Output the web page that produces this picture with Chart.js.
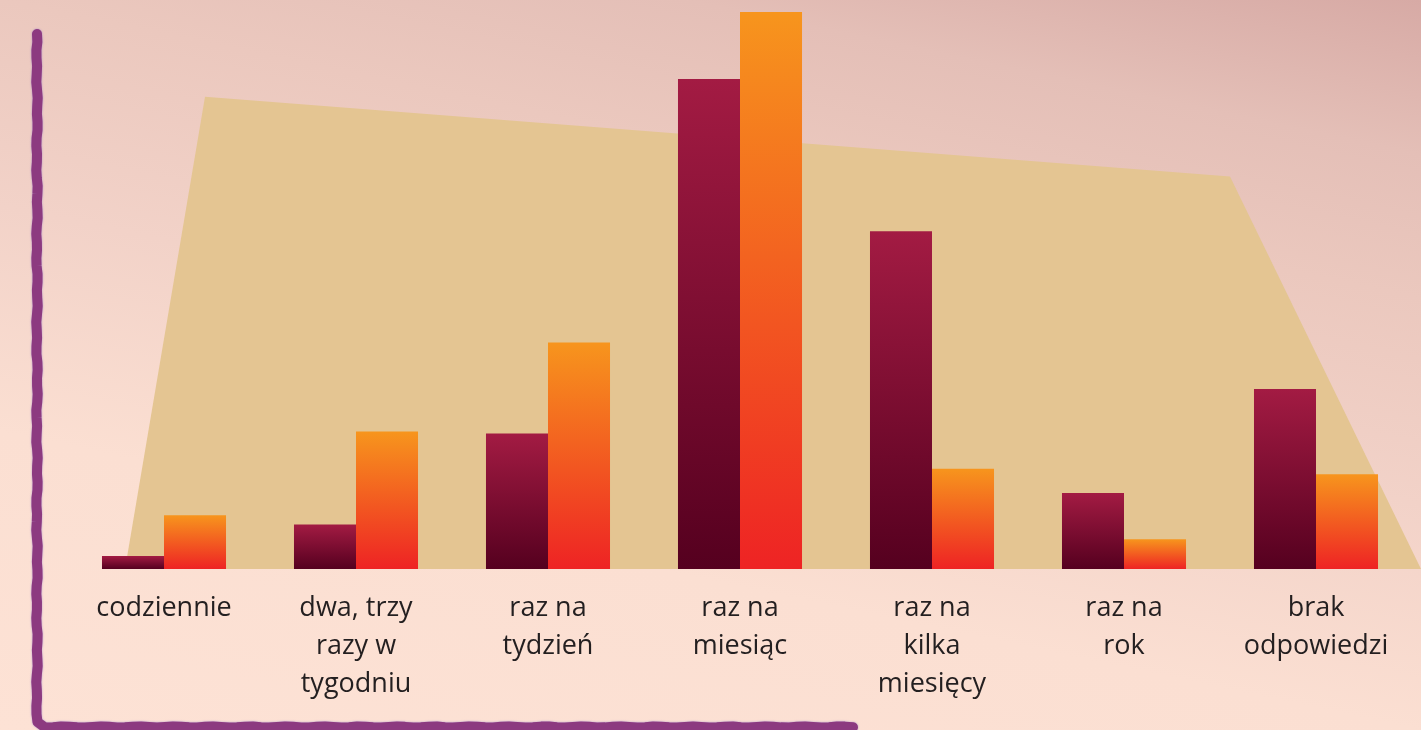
<!DOCTYPE html>
<html>
<head>
<meta charset="utf-8">
<script src="https://cdn.jsdelivr.net/npm/chart.js@4"></script>
<style>
  html, body { margin: 0; padding: 0; overflow: hidden; }
  #wrap { width: 1421px; height: 730px; position: relative; }
</style>
</head>
<body>
<div id="wrap"><canvas id="chart"></canvas></div>
<script>
// categories (multi-line labels as in the picture)
const categories = [
    ['codziennie'],
    ['dwa, trzy', 'razy w', 'tygodniu'],
    ['raz na', 'tydzień'],
    ['raz na', 'miesiąc'],
    ['raz na', 'kilka', 'miesięcy'],
    ['raz na', 'rok'],
    ['brak', 'odpowiedzi']
];
// values (no axis in the source, so relative units)
const seriesDark = [0.7, 2.4, 7.3, 26.4, 18.2, 4.1, 9.7];
const seriesOrange = [2.9, 7.4, 12.2, 30.0, 5.4, 1.6, 5.1];
const yMax = 30.65;

// per-bar vertical gradient, from the bar's top to its base
function barGradient(top, bottom) {
    return (context) => {
        const chart = context.chart;
        const y = chart.scales.y;
        if (!chart.chartArea || !y || context.parsed === undefined) return bottom;
        const yTop = y.getPixelForValue(context.parsed.y);
        const yBase = y.getPixelForValue(0);
        if (!isFinite(yTop) || yBase - yTop < 1) return bottom;
        const g = chart.ctx.createLinearGradient(0, yTop, 0, yBase);
        g.addColorStop(0, top);
        g.addColorStop(1, bottom);
        return g;
    };
}

// page background, the tan shape behind the bars and the hand drawn axis
const backdrop = {
    id: 'backdrop',
    beforeDraw(chart) {
        const { ctx, width, height, chartArea } = chart;
        ctx.save();
        // mostly vertical, slightly tilted: darkest in the top right corner
        const bg = ctx.createLinearGradient(0, height, 207, -255);
        bg.addColorStop(0, '#fde2d5');
        bg.addColorStop(0.29, '#fbdfd2');
        bg.addColorStop(0.51, '#f2d2c8');
        bg.addColorStop(0.71, '#ebc8be');
        bg.addColorStop(0.85, '#e4bfb7');
        bg.addColorStop(1, '#d7aaa5');
        ctx.fillStyle = bg;
        ctx.fillRect(0, 0, width, height);

        // tan trapezoid, placed relative to the plot area
        const base = chartArea.bottom;
        ctx.fillStyle = '#e4c592';
        ctx.beginPath();
        ctx.moveTo(125, base);
        ctx.lineTo(205, base * 0.17);
        ctx.lineTo(1230, base * 0.31);
        ctx.lineTo(width, base);
        ctx.closePath();
        ctx.fill();
        ctx.restore();
    },
    afterDraw(chart) {
        const { ctx } = chart;
        ctx.save();
        ctx.strokeStyle = '#8c3a80';
        ctx.lineWidth = 10;
        ctx.lineCap = 'round';
        ctx.lineJoin = 'round';
        ctx.shadowColor = 'rgba(110, 80, 200, 0.55)';
        ctx.shadowBlur = 2;
        ctx.beginPath();
        ctx.moveTo(37, 34);
        // small roughness only, the stroke stays straight overall
        for (let yy = 42; yy <= 726; yy += 8) {
            ctx.lineTo(37 + Math.sin(yy * 0.21) * 0.5 + Math.sin(yy * 0.07) * 0.4, yy);
        }
        for (let xx = 45; xx <= 860; xx += 8) {
            ctx.lineTo(xx, 727 + Math.sin(xx * 0.17) * 0.5);
        }
        ctx.stroke();
        ctx.restore();
    }
};

new Chart(document.getElementById('chart'), {
    type: 'bar',
    data: {
        labels: categories,
        datasets: [{
            data: seriesDark,
            backgroundColor: barGradient('#a31b43', '#55001f'),
            borderWidth: 0
        }, {
            data: seriesOrange,
            backgroundColor: barGradient('#f7951d', '#ee2324'),
            borderWidth: 0
        }]
    },
    options: {
        responsive: true,
        maintainAspectRatio: false,
        animation: false,
        layout: { padding: { left: 68, right: 9, top: 0, bottom: 0 } },
        datasets: {
            bar: { barPercentage: 1, categoryPercentage: 0.646 }
        },
        plugins: {
            legend: { display: false },
            tooltip: { enabled: false }
        },
        scales: {
            x: {
                grid: { display: false, drawTicks: false, tickLength: 0 },
                border: { display: false },
                ticks: {
                    color: '#231f20',
                    padding: 21,
                    maxRotation: 0,
                    autoSkip: false,
                    font: { family: 'Open Sans', size: 27, lineHeight: 1.39 }
                },
                afterFit: (axis) => { axis.height = 161; }
            },
            y: {
                display: false,
                min: 0,
                max: yMax
            }
        }
    },
    plugins: [backdrop]
});
</script>
</body>
</html>
